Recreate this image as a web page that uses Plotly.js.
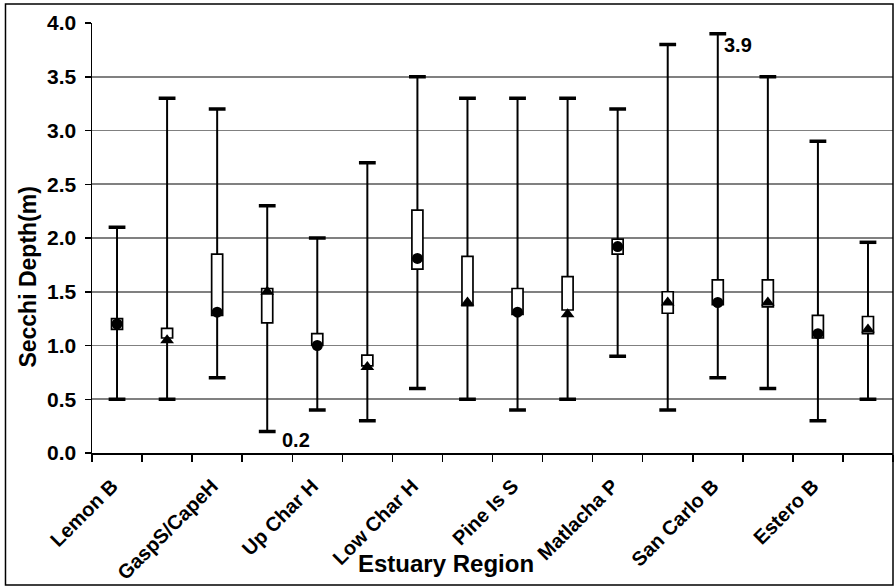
<!DOCTYPE html>
<html>
<head>
<meta charset="utf-8">
<script src="https://cdn.plot.ly/plotly-3.0.1.min.js"></script>
<style>
  html, body { margin: 0; padding: 0; background: #ffffff; }
  #chart { width: 896px; height: 587px; }
</style>
</head>
<body>
<div id="chart"></div>
<script>
// Region labels (one label per pair of boxes)
const regionLabels = ['Lemon B', 'GaspS/CapeH', 'Up Char H', 'Low Char H', 'Pine Is S', 'Matlacha P', 'San Carlo B', 'Estero B'];

// Per-box statistics (16 boxes, two per region)
const maxDepth = [2.1, 3.3, 3.2, 2.3, 2.0, 2.7, 3.5, 3.3, 3.3, 3.3, 3.2, 3.8, 3.9, 3.5, 2.9, 1.96];
const minDepth = [0.5, 0.5, 0.7, 0.2, 0.4, 0.3, 0.6, 0.5, 0.4, 0.5, 0.9, 0.4, 0.7, 0.6, 0.3, 0.5];
const boxHigh  = [1.25, 1.16, 1.85, 1.53, 1.11, 0.91, 2.26, 1.83, 1.53, 1.64, 1.99, 1.50, 1.61, 1.61, 1.28, 1.27];
const boxLow   = [1.15, 1.07, 1.28, 1.21, 1.00, 0.81, 1.71, 1.37, 1.29, 1.33, 1.85, 1.30, 1.38, 1.36, 1.07, 1.11];
const markerValue = [1.2, 1.05, 1.31, 1.5, 1.0, 0.8, 1.81, 1.4, 1.31, 1.29, 1.92, 1.4, 1.4, 1.4, 1.11, 1.15];
const markerSymbol = ['circle', 'triangle-up', 'circle', 'triangle-up', 'circle', 'triangle-up', 'circle', 'triangle-up',
                      'circle', 'triangle-up', 'circle', 'triangle-up', 'circle', 'triangle-up', 'circle', 'triangle-up'];

const yTickVals = [0, 0.5, 1.0, 1.5, 2.0, 2.5, 3.0, 3.5, 4.0];

// derived helpers
const idx = maxDepth.map((_, i) => i);
const boxSpan = idx.map(i => boxHigh[i] - boxLow[i]);
const upErr = idx.map(i => maxDepth[i] - boxHigh[i]);
const downErr = idx.map(i => boxLow[i] - minDepth[i]);
const zeros = idx.map(() => 0);
const labelPos = regionLabels.map((_, k) => 2 * k);
const boundaries = idx.map(i => i - 0.5).concat([idx.length - 0.5]);

const FONT = 'Liberation Sans, Arial, Helvetica, sans-serif';

const traces = [
  { // boxes
    type: 'bar', x: idx, y: boxSpan, base: boxLow, width: 0.22,
    marker: { color: '#ffffff', line: { color: '#000000', width: 1.7 } },
    hoverinfo: 'skip', showlegend: false
  },
  { // upper whiskers
    type: 'scatter', mode: 'markers', x: idx, y: boxHigh,
    marker: { size: 1, color: 'rgba(0,0,0,0)' },
    error_y: { type: 'data', symmetric: false, array: upErr, arrayminus: zeros, width: 0, thickness: 2, color: '#000000' },
    hoverinfo: 'skip', showlegend: false
  },
  { // lower whiskers
    type: 'scatter', mode: 'markers', x: idx, y: boxLow,
    marker: { size: 1, color: 'rgba(0,0,0,0)' },
    error_y: { type: 'data', symmetric: false, array: zeros, arrayminus: downErr, width: 0, thickness: 2, color: '#000000' },
    hoverinfo: 'skip', showlegend: false
  },
  { // caps
    type: 'scatter', mode: 'markers', x: idx.concat(idx), y: maxDepth.concat(minDepth),
    marker: { symbol: 'line-ew', size: 12, opacity: 1, line: { color: '#000000', width: 3.5 } },
    hoverinfo: 'skip', showlegend: false
  },
  { // value markers
    type: 'scatter', mode: 'markers', x: idx, y: markerValue,
    marker: { symbol: markerSymbol, size: idx.map(i => markerSymbol[i] === 'circle' ? 11 : 12), color: '#000000', opacity: 1,
              line: { width: 0 } },
    showlegend: false
  }
];

const layout = {
  width: 896, height: 587,
  margin: { l: 92, r: 3, t: 23, b: 134 },
  paper_bgcolor: '#ffffff', plot_bgcolor: '#ffffff',
  font: { family: FONT, color: '#000000' },
  xaxis: {
    range: [-0.5, idx.length - 0.5],
    tickmode: 'array', tickvals: labelPos, ticktext: regionLabels,
    tickangle: -45, ticks: '',
    tickfont: { family: FONT, size: 20, weight: 'bold', color: '#000000' },
    ticklabelstandoff: 12, ticklabelshift: -5,
    showgrid: false, zeroline: false,
    showline: true, linecolor: '#000000', linewidth: 1.5,
    minor: { tickmode: 'array', tickvals: boundaries, ticks: 'outside', ticklen: 7, tickwidth: 1.5, tickcolor: '#000000', showgrid: false },
    fixedrange: true
  },
  yaxis: {
    range: [0, 4], tickmode: 'array', tickvals: yTickVals, tickformat: '.1f',
    ticks: 'outside', ticklen: 6, tickwidth: 1.5, tickcolor: '#000000',
    tickfont: { family: FONT, size: 21, weight: 'bold', color: '#000000' },
    ticklabelstandoff: 4,
    showgrid: true, gridcolor: '#808080', gridwidth: 1.6,
    zeroline: false, showline: true, linecolor: '#000000', linewidth: 1.5,
    fixedrange: true
  },
  annotations: [
    { xref: 'paper', yref: 'paper', x: 0.442, y: -0.256, text: 'Estuary Region', showarrow: false,
      xanchor: 'center', yanchor: 'middle', font: { family: FONT, size: 24, weight: 'bold', color: '#000000' } },
    { xref: 'paper', yref: 'paper', x: -0.08, y: 0.41, text: 'Secchi Depth(m)', showarrow: false, textangle: -90,
      xanchor: 'center', yanchor: 'middle', font: { family: FONT, size: 23, weight: 'bold', color: '#000000' } },
    { x: 3, y: minDepth[3], text: minDepth[3].toFixed(1), showarrow: false, xanchor: 'left', yanchor: 'middle',
      xshift: 13, yshift: -8, font: { family: FONT, size: 20, weight: 'bold', color: '#000000' } },
    { x: 12, y: maxDepth[12], text: maxDepth[12].toFixed(1), showarrow: false, xanchor: 'left', yanchor: 'top',
      xshift: 4, yshift: 2, font: { family: FONT, size: 20, weight: 'bold', color: '#000000' } }
  ],
  shapes: [
    { type: 'rect', xref: 'paper', yref: 'paper', x0: -0.108, x1: 1.0, y0: -0.307, y1: 1.044,
      line: { color: '#000000', width: 1.5 }, fillcolor: 'rgba(0,0,0,0)', layer: 'above' }
  ]
};

Plotly.newPlot('chart', traces, layout, { displayModeBar: false, staticPlot: true });
</script>
</body>
</html>
